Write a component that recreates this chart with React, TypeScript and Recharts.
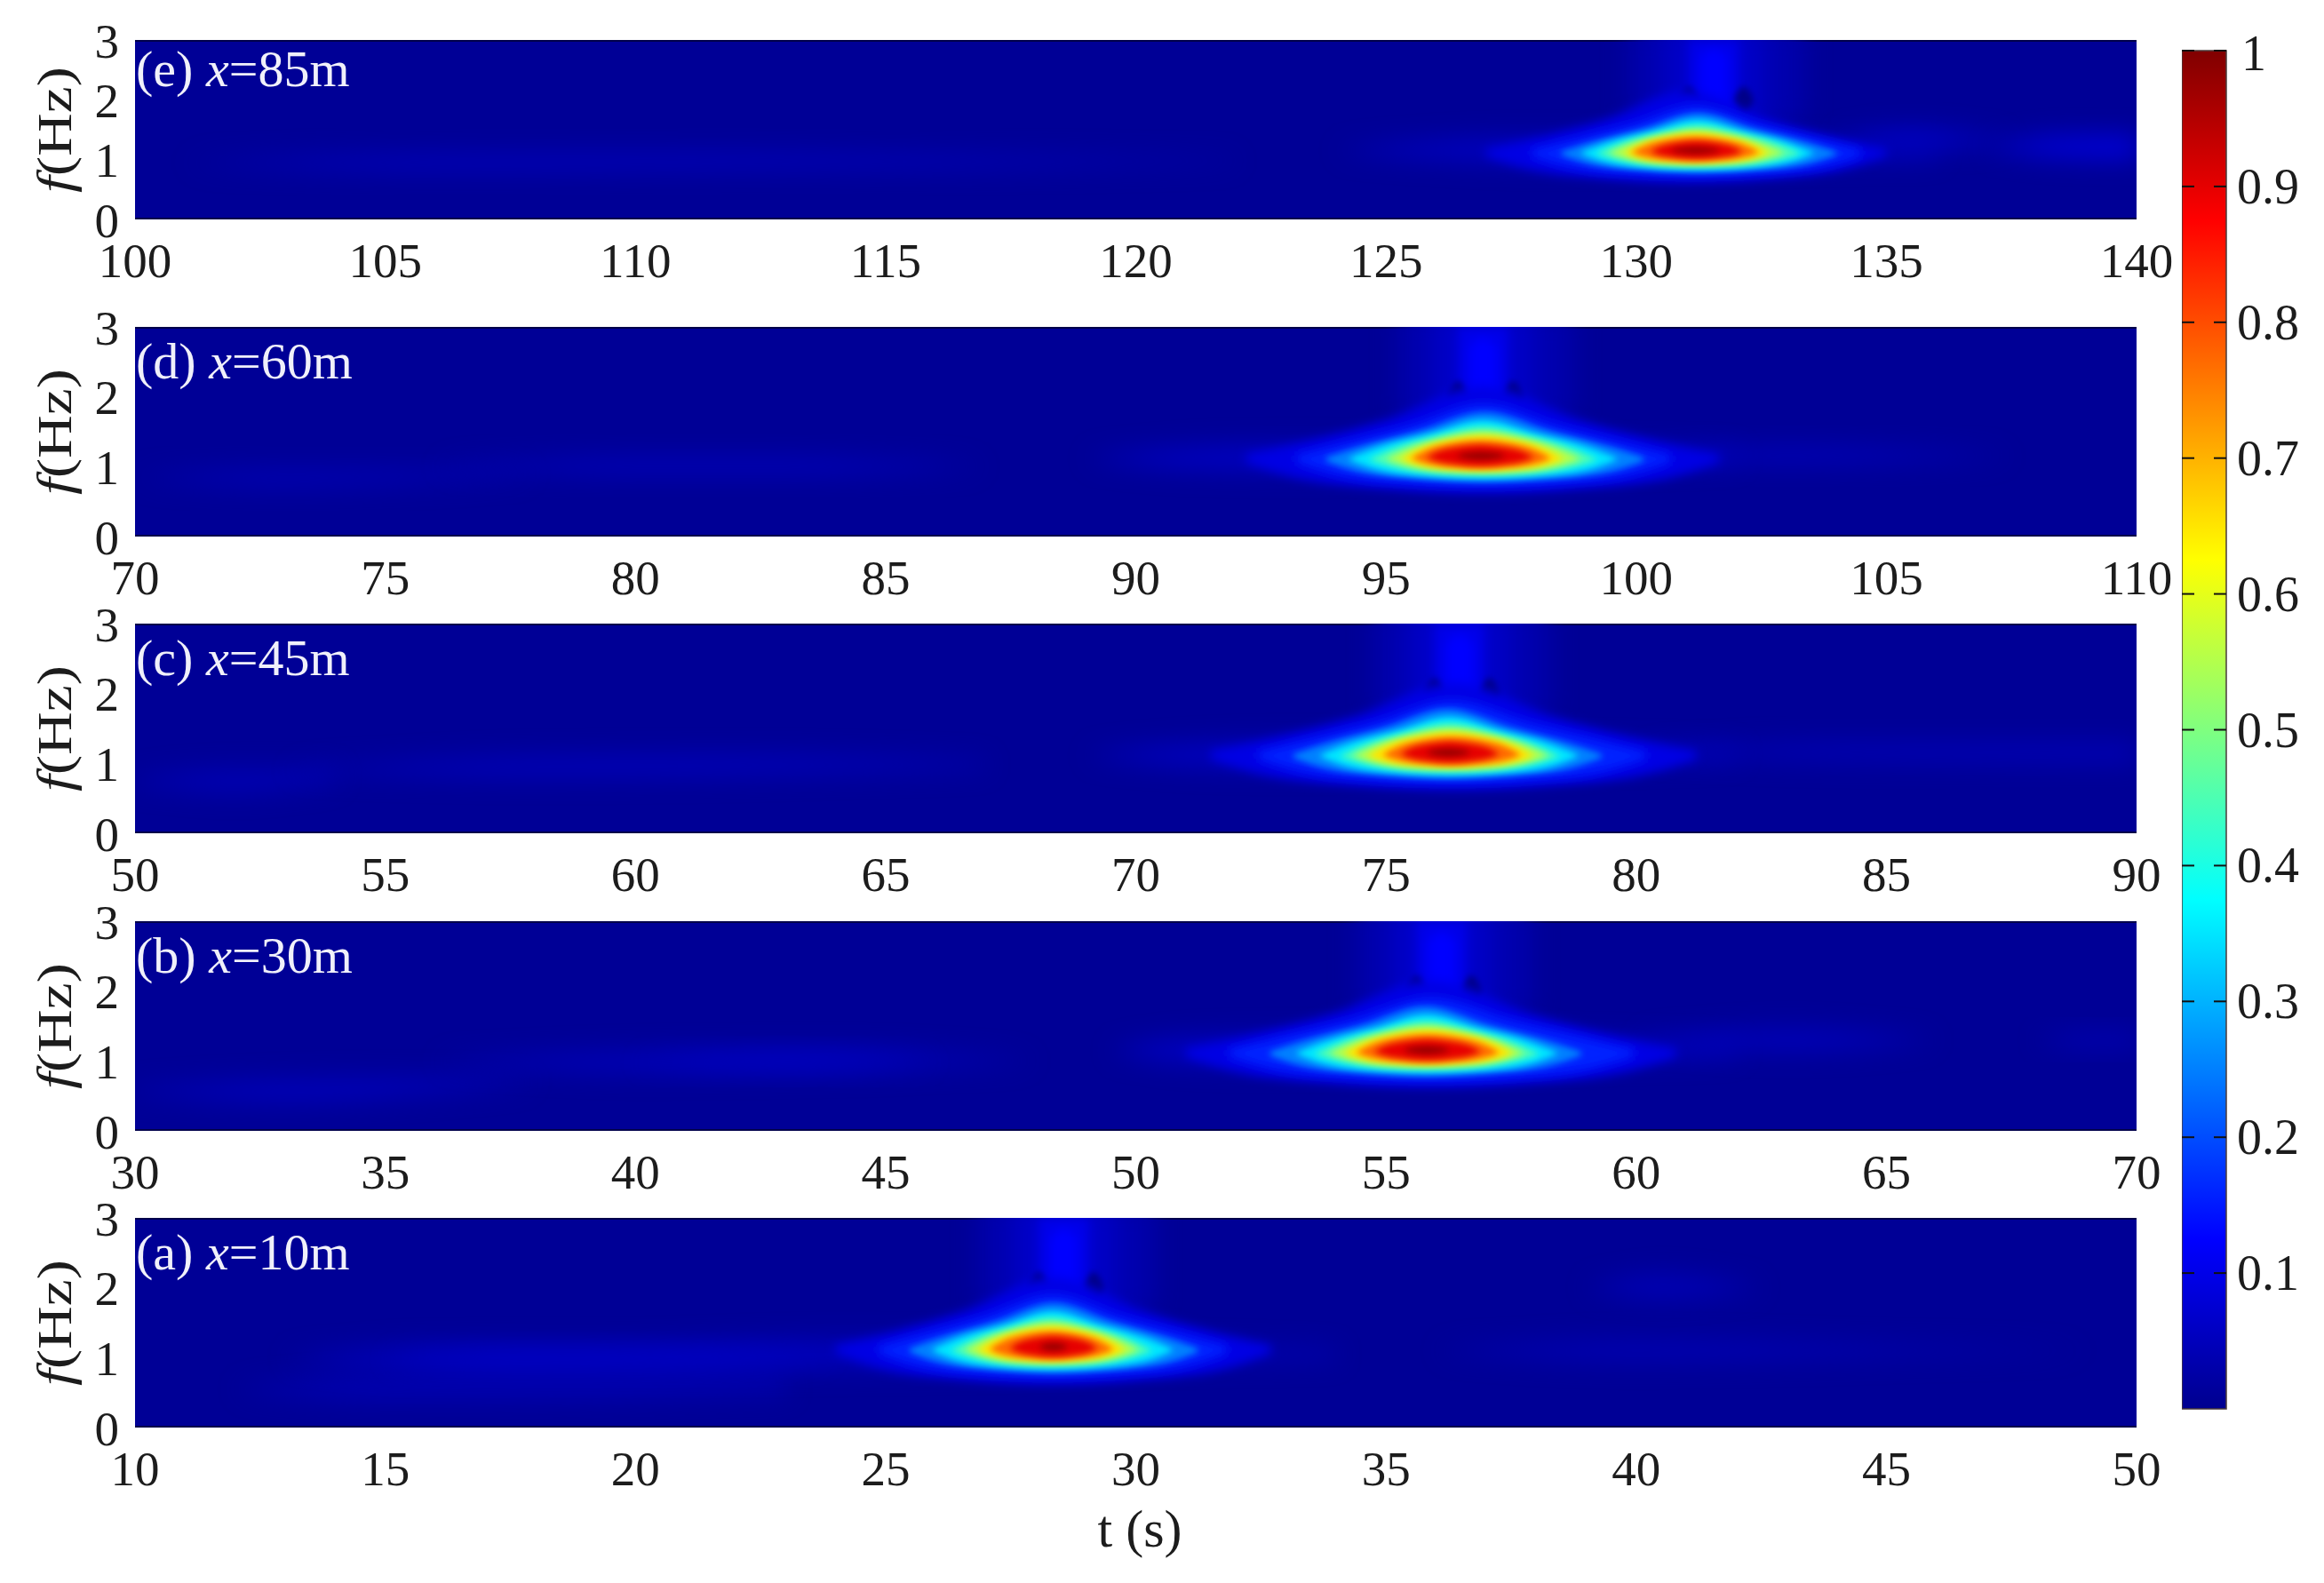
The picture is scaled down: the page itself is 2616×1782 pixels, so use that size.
import React from 'react';
import { Area, Bar, BarChart, ComposedChart, Label, XAxis, YAxis } from 'recharts';

// x ticks of each panel
const ticksA = [10, 15, 20, 25, 30, 35, 40, 45, 50];
const ticksB = [30, 35, 40, 45, 50, 55, 60, 65, 70];
const ticksC = [50, 55, 60, 65, 70, 75, 80, 85, 90];
const ticksD = [70, 75, 80, 85, 90, 95, 100, 105, 110];
const ticksE = [100, 105, 110, 115, 120, 125, 130, 135, 140];
const freqTicks = [0, 1, 2, 3];
const colorbarTicks = [0.1, 0.2, 0.3, 0.4, 0.5, 0.6, 0.7, 0.8, 0.9, 1];

// contour levels of the main energy lobe, value painted inside each contour
const lobeBands = [0.095, 0.16, 0.25, 0.35, 0.45, 0.55, 0.65, 0.77, 0.9, 0.98];

// left and right tips (s) of each contour, read per panel
const leftA = [24.0, 24.85, 25.48, 25.93, 26.3, 26.57, 26.84, 27.07, 27.47, 28.06];
const rightA = [32.7, 31.83, 31.24, 30.74, 30.33, 30.06, 29.79, 29.56, 29.24, 28.65];
const leftB = [51, 51.85, 52.68, 53.21, 53.57, 53.86, 54.16, 54.4, 54.75, 55.34];
const rightB = [60.8, 59.96, 58.9, 58.42, 58.07, 57.77, 57.53, 57.27, 56.91, 56.29];
const leftC = [71.5, 72.44, 73.15, 73.68, 74.07, 74.34, 74.63, 74.93, 75.28, 75.8];
const rightC = [81.2, 80.2, 79.31, 78.84, 78.48, 78.24, 77.95, 77.7, 77.27, 76.7];
const leftD = [92.2, 93.2, 93.8, 94.26, 94.65, 94.99, 95.3, 95.5, 95.8, 96.4];
const rightD = [101.66, 100.7, 100.15, 99.62, 99.23, 98.9, 98.55, 98.3, 97.96, 97.4];
const leftE = [127, 127.9, 128.5, 128.9, 129.2, 129.45, 129.75, 129.9, 130.28, 130.68];
const rightE = [135, 134.5, 134, 133.55, 133.3, 132.97, 132.66, 132.47, 132.13, 131.69];

// contour outline in frequency, at these fractions of tip-to-tip width
const lobeFractions = [0, 0.1, 0.3, 0.5, 0.7, 0.9, 1];
const lobeLow = [
  [1.06, 0.85, 0.68, 0.62, 0.68, 0.85, 1.06],
  [1.07, 0.9, 0.76, 0.72, 0.76, 0.9, 1.07],
  [1.08, 0.93, 0.82, 0.78, 0.82, 0.93, 1.08],
  [1.1, 0.96, 0.86, 0.83, 0.86, 0.96, 1.1],
  [1.1, 1.0, 0.9, 0.88, 0.9, 1.0, 1.1],
  [1.11, 1.02, 0.93, 0.91, 0.93, 1.02, 1.11],
  [1.11, 1.03, 0.97, 0.95, 0.97, 1.03, 1.11],
  [1.12, 1.05, 0.99, 0.97, 0.99, 1.05, 1.12],
  [1.13, 1.08, 1.03, 1.01, 1.03, 1.08, 1.13],
  [1.15, 1.13, 1.11, 1.1, 1.11, 1.13, 1.15],
];
const lobeHigh = [
  [1.18, 1.32, 1.68, 2.15, 1.68, 1.32, 1.18],
  [1.16, 1.3, 1.58, 1.9, 1.58, 1.3, 1.16],
  [1.13, 1.28, 1.52, 1.78, 1.52, 1.28, 1.13],
  [1.12, 1.27, 1.47, 1.67, 1.47, 1.27, 1.12],
  [1.1, 1.25, 1.44, 1.57, 1.44, 1.25, 1.1],
  [1.11, 1.24, 1.41, 1.5, 1.41, 1.24, 1.11],
  [1.11, 1.24, 1.38, 1.44, 1.38, 1.24, 1.11],
  [1.12, 1.23, 1.34, 1.38, 1.34, 1.23, 1.12],
  [1.13, 1.21, 1.28, 1.31, 1.28, 1.21, 1.13],
  [1.15, 1.18, 1.2, 1.21, 1.2, 1.18, 1.15],
];

// plume above the lobe: value, then [seconds from plume centre, low f, high f]
const plumeCentres = { a: 28.56, b: 56.11, c: 76.47, d: 96.94, e: 131.55 };
const plumeBands = [0.035, 0.065, 0.1, 0.125];
const plumeRows = [
  [[-1.7, 1.75, 3.2], [-1, 1.4, 3.2], [0, 1.4, 3.2], [1, 1.4, 3.2], [1.8, 1.75, 3.2]],
  [[-1.0, 1.6, 3.2], [-0.5, 1.5, 3.2], [0, 1.5, 3.2], [0.5, 1.5, 3.2], [1.0, 1.6, 3.2]],
  [[-0.5, 1.7, 3.0], [-0.3, 1.6, 3.0], [0, 1.6, 3.0], [0.3, 1.6, 3.0], [0.5, 1.7, 3.0]],
  [[-0.28, 1.8, 2.7], [-0.15, 1.7, 2.8], [0, 1.7, 2.85], [0.15, 1.7, 2.8], [0.28, 1.8, 2.7]],
];
const holeOffsets = [-0.5, 0.6];
const holeRows = [[-0.2, 2.0, 2.0], [-0.1, 1.84, 2.16], [0, 1.78, 2.22], [0.1, 1.84, 2.16], [0.2, 2.0, 2.0]];

// faint background patches per panel: value, then [t, low f, high f]
const hazeA = [
  { v: 0.04, rows: [[12, 0.55, 0.55], [15, 0.4, 0.72], [19, 0.42, 0.72], [23, 0.5, 0.7]] },
  { v: 0.05, rows: [[13, 1.0, 1.0], [16, 0.82, 1.16], [20, 0.82, 1.18], [24, 0.85, 1.25], [34, 1.0, 1.1]] },
  { v: 0.065, rows: [[15, 0.98, 0.98], [17.5, 0.88, 1.08], [21, 0.9, 1.07], [24, 1, 1]] },
  { v: 0.045, rows: [[39, 2, 2], [40.5, 1.85, 2.18], [42.5, 2, 2]] },
  { v: 0.04, rows: [[36, 1.1, 1.1], [40, 0.95, 1.25], [46, 1.05, 1.15], [49, 1.1, 1.1]] },
];
const hazeB = [
  { v: 0.05, rows: [[30, 0.55, 0.6], [33, 0.42, 0.72], [36, 0.55, 0.75], [38, 0.7, 0.7]] },
  { v: 0.05, rows: [[36, 1, 1], [40, 0.85, 1.12], [44, 0.88, 1.15], [48, 1, 1]] },
  { v: 0.06, rows: [[40, 0.98, 0.98], [43, 0.9, 1.08], [46, 0.98, 0.98]] },
  { v: 0.06, rows: [[49.5, 1.15, 1.15], [51, 0.98, 1.32], [53, 0.95, 1.35], [62, 1.1, 1.25]] },
  { v: 0.05, rows: [[60, 1.3, 1.3], [63, 1.15, 1.45], [66, 1.3, 1.3]] },
  { v: 0.05, rows: [[68, 1.3, 1.3], [69, 1.22, 1.38], [70, 1.22, 1.38]] },
];
const hazeC = [
  { v: 0.045, rows: [[50, 0.72, 0.78], [52, 0.6, 0.9], [54, 0.75, 0.9]] },
  { v: 0.05, rows: [[53, 0.9, 0.9], [58, 0.82, 1.08], [62, 0.85, 1.1], [67, 0.95, 1.02]] },
  { v: 0.06, rows: [[69, 1.12, 1.12], [71, 0.98, 1.26], [73, 0.95, 1.3], [82, 1.08, 1.2]] },
  { v: 0.045, rows: [[80, 1.15, 1.15], [84, 1.05, 1.28], [90, 1.02, 1.28]] },
];
const hazeD = [
  { v: 0.045, rows: [[70, 0.85, 0.85], [73, 0.72, 0.95], [76, 0.8, 0.95], [78, 0.9, 0.9]] },
  { v: 0.05, rows: [[76, 1, 1], [80, 0.9, 1.12], [83, 0.9, 1.12], [87, 1, 1]] },
  { v: 0.06, rows: [[89, 1.12, 1.12], [91, 0.98, 1.26], [93, 0.95, 1.3], [102, 1.08, 1.22]] },
  { v: 0.05, rows: [[100, 1.15, 1.15], [103, 1.05, 1.27], [107.5, 1.15, 1.15]] },
];
const hazeE = [
  { v: 0.05, rows: [[101, 0.95, 0.95], [106, 0.82, 1.08], [112, 0.85, 1.1], [117, 0.88, 1.05], [122, 0.97, 1.0]] },
  { v: 0.06, rows: [[124, 1.15, 1.15], [126, 1.02, 1.3], [128, 0.95, 1.35], [136, 1.05, 1.2]] },
  { v: 0.065, rows: [[134, 1.35, 1.35], [135.5, 1.2, 1.5], [137.5, 1.3, 1.3]] },
  { v: 0.085, rows: [[137, 1.2, 1.2], [138.5, 1.05, 1.38], [140, 1.02, 1.4]] },
];

const FONT = '"Liberation Serif", "Times New Roman", serif';
const TEXT = '#1c1c1c';
const BACKGROUND = '#000096';

const jet = (v: number) => {
  const stops: [number, number[]][] = [
    [0, [0, 0, 143]], [0.125, [0, 0, 255]], [0.375, [0, 255, 255]],
    [0.625, [255, 255, 0]], [0.875, [255, 0, 0]], [1, [128, 0, 0]],
  ];
  for (let i = 1; i < stops.length; i++) {
    if (v <= stops[i][0]) {
      const [a, ca] = stops[i - 1];
      const [b, cb] = stops[i];
      const k = (v - a) / (b - a);
      return `rgb(${ca.map((c, j) => Math.round(c + (cb[j] - c) * k)).join(',')})`;
    }
  }
  return 'rgb(128,0,0)';
};

const toRows = (rows: number[][]) => rows.map(([t, lo, hi]) => ({ t, band: [lo, hi] }));

const lobeRows = (level: number, left: number, right: number) =>
  lobeFractions.map((fr, k) => ({
    t: left + fr * (right - left),
    band: [lobeLow[level][k], lobeHigh[level][k]],
  }));

interface PanelProps {
  id: string;
  name: string;
  top: number;
  height: number;
  ticks: number[];
  left: number[];
  right: number[];
  plume: number;
  haze: { v: number; rows: number[][] }[];
  xTitle?: boolean;
}

const PLOT_LEFT = 152;
const PLOT_RIGHT = 2405;
const CHART_W = 2550;
const M_TOP = 40;
const AXIS_H = 70;

const Panel: React.FC<PanelProps> = ({ id, name, top, height, ticks, left, right, plume, haze, xTitle }) => {
  const tStart = ticks[0];
  const tEnd = ticks[ticks.length - 1];
  const soft = `url(#soft-${id})`;
  const softWide = `url(#wide-${id})`;
  const softHaze = `url(#haze-${id})`;
  const marginBottom = xTitle ? 90 : 30;
  return (
    <div style={{ position: 'absolute', left: 0, top: top - M_TOP }}>
      <ComposedChart
        width={CHART_W}
        height={height + M_TOP + marginBottom + AXIS_H}
        margin={{ top: M_TOP, right: CHART_W - PLOT_RIGHT, bottom: marginBottom, left: PLOT_LEFT - 60 }}
      >
        <defs>
          <filter id={`soft-${id}`} x="-40%" y="-80%" width="180%" height="260%">
            <feGaussianBlur stdDeviation="3.5" />
          </filter>
          <filter id={`wide-${id}`} x="-40%" y="-80%" width="180%" height="260%">
            <feGaussianBlur stdDeviation="6" />
          </filter>
          <filter id={`haze-${id}`} x="-60%" y="-150%" width="220%" height="400%">
            <feGaussianBlur stdDeviation="14" />
          </filter>
        </defs>
        <XAxis
          dataKey="t"
          type="number"
          domain={[tStart, tEnd]}
          ticks={ticks}
          interval={0}
          allowDataOverflow
          height={AXIS_H}
          axisLine={false}
          tickLine={false}
          tickSize={0}
          tickMargin={26}
          tick={{ fontFamily: FONT, fontSize: 55, fill: TEXT }}
        >
          {xTitle && (
            <Label
              content={() => (
                <text x={1283} y={M_TOP + height + 134} textAnchor="middle" fontFamily={FONT} fontSize={60} fill={TEXT}>
                  t (s)
                </text>
              )}
            />
          )}
        </XAxis>
        <YAxis
          type="number"
          domain={[0, 3]}
          ticks={freqTicks}
          interval={0}
          allowDataOverflow
          width={60}
          axisLine={false}
          tickLine={false}
          tickSize={0}
          tickMargin={18}
          tick={{ fontFamily: FONT, fontSize: 55, fill: TEXT }}
        >
          <Label
            content={() => (
              <g>
                <text
                  transform={`translate(80 ${M_TOP + height / 2}) rotate(-90)`}
                  textAnchor="middle"
                  textLength={142}
                  lengthAdjust="spacingAndGlyphs"
                  fontFamily={FONT}
                  fontSize={55}
                  fill={TEXT}
                >
                  <tspan fontStyle="italic">f</tspan>(Hz)
                </text>
                <text x={PLOT_LEFT + 1} y={M_TOP + (id === 'e' ? 52 : 58)} fontFamily={FONT} fontSize={58} fill="#f0f0fa">
                  ({id}) <tspan fontStyle="italic">x</tspan>={name}
                </text>
              </g>
            )}
          />
        </YAxis>
        <Area
          data={toRows([[tStart, 0, 3], [tEnd, 0, 3]])}
          dataKey="band"
          type="linear"
          fill={BACKGROUND}
          fillOpacity={1}
          stroke="#00004a"
          strokeWidth={4}
          dot={false}
          activeDot={false}
          isAnimationActive={false}
        />
        {haze.map((h, i) => (
          <Area
            key={`haze-${i}`}
            data={toRows(h.rows)}
            dataKey="band"
            type="monotone"
            fill={jet(h.v)}
            fillOpacity={1}
            stroke="none"
            filter={softHaze}
            dot={false}
            activeDot={false}
            isAnimationActive={false}
          />
        ))}
        {plumeBands.map((v, i) => (
          <Area
            key={`plume-${i}`}
            data={toRows(plumeRows[i].map(([dt, lo, hi]) => [plume + dt, lo, hi]))}
            dataKey="band"
            type="monotone"
            fill={jet(v)}
            fillOpacity={1}
            stroke="none"
            filter={i < 2 ? softHaze : softWide}
            dot={false}
            activeDot={false}
            isAnimationActive={false}
          />
        ))}
        {holeOffsets.map((off, i) => (
          <Area
            key={`hole-${i}`}
            data={toRows(holeRows.map(([dt, lo, hi]) => [plume + off + dt, lo, hi]))}
            dataKey="band"
            type="monotone"
            fill="#000088"
            fillOpacity={1}
            stroke="none"
            filter={soft}
            dot={false}
            activeDot={false}
            isAnimationActive={false}
          />
        ))}
        {lobeBands.map((v, i) => (
          <Area
            key={`lobe-${i}`}
            data={lobeRows(i, left[i], right[i])}
            dataKey="band"
            type="monotone"
            fill={jet(v)}
            fillOpacity={1}
            stroke="none"
            filter={i < 2 ? softWide : soft}
            dot={false}
            activeDot={false}
            isAnimationActive={false}
          />
        ))}
      </ComposedChart>
    </div>
  );
};

const ColorbarTick = (props: any) => {
  const { x, y, payload } = props;
  return (
    <g>
      <line x1={x - 62} x2={x - 48} y1={y} y2={y} stroke="#111" strokeWidth={2} />
      <line x1={x - 26} x2={x - 12} y1={y} y2={y} stroke="#111" strokeWidth={2} />
      <text x={payload.value === 1 ? x + 5 : x} y={payload.value === 1 ? y + 22 : y + 19} fontFamily={FONT} fontSize={56} fill={TEXT}>
        {payload.value}
      </text>
    </g>
  );
};

const colorbarData = [{ name: 'power', value: 1 }];

const Colorbar = () => (
  <div style={{ position: 'absolute', left: 2456, top: 27 }}>
    <BarChart
      width={160}
      height={1589}
      data={colorbarData}
      barCategoryGap={0}
      margin={{ top: 30, right: 50, bottom: 30, left: 0 }}
    >
      <defs>
        <linearGradient id="jet-scale" x1="0" y1="1" x2="0" y2="0">
          <stop offset="0" stopColor="#00008f" />
          <stop offset="0.125" stopColor="#0000ff" />
          <stop offset="0.375" stopColor="#00ffff" />
          <stop offset="0.625" stopColor="#ffff00" />
          <stop offset="0.875" stopColor="#ff0000" />
          <stop offset="1" stopColor="#800000" />
        </linearGradient>
      </defs>
      <XAxis dataKey="name" hide />
      <YAxis
        orientation="right"
        type="number"
        domain={[0, 1]}
        ticks={colorbarTicks}
        interval={0}
        width={60}
        axisLine={false}
        tickLine={false}
        tickSize={0}
        tickMargin={12}
        tick={ColorbarTick}
      />
      <Bar dataKey="value" fill="url(#jet-scale)" stroke="#4a3a3a" strokeWidth={1.5} isAnimationActive={false} />
    </BarChart>
  </div>
);

export default function App() {
  return (
    <div style={{ position: 'absolute', left: 0, top: 0, width: 2616, height: 1782, background: '#fff', overflow: 'hidden' }}>
      <Panel id="e" name="85m" top={45} height={202} ticks={ticksE} left={leftE} right={rightE} plume={plumeCentres.e} haze={hazeE} />
      <Panel id="d" name="60m" top={368} height={236} ticks={ticksD} left={leftD} right={rightD} plume={plumeCentres.d} haze={hazeD} />
      <Panel id="c" name="45m" top={702} height={236} ticks={ticksC} left={leftC} right={rightC} plume={plumeCentres.c} haze={hazeC} />
      <Panel id="b" name="30m" top={1037} height={236} ticks={ticksB} left={leftB} right={rightB} plume={plumeCentres.b} haze={hazeB} />
      <Panel id="a" name="10m" top={1371} height={236} ticks={ticksA} left={leftA} right={rightA} plume={plumeCentres.a} haze={hazeA} xTitle />
      <Colorbar />
    </div>
  );
}
